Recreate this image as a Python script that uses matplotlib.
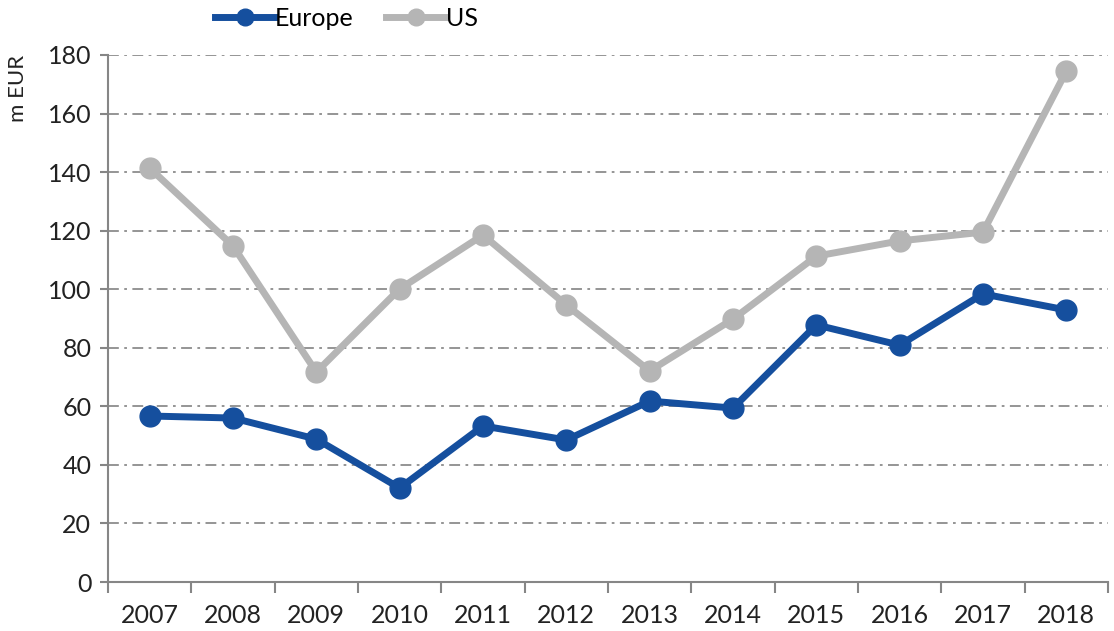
import matplotlib.pyplot as plt
import numpy as np

# data
years = ['2007', '2008', '2009', '2010', '2011', '2012',
         '2013', '2014', '2015', '2016', '2017', '2018']
europe = [56.7, 56.0, 48.8, 32.1, 53.3, 48.5, 61.8, 59.4, 87.8, 80.9, 98.4, 92.9]
us = [141.4, 114.8, 71.7, 100.1, 118.5, 94.6, 72.1, 89.8, 111.3, 116.5, 119.5, 174.5]
y_ticks = [0, 20, 40, 60, 80, 100, 120, 140, 160, 180]

plt.rcParams['font.family'] = ['Lato', 'DejaVu Sans']

fig = plt.figure(figsize=(11.14, 6.31), dpi=100)
ax = fig.add_axes([108 / 1114, 49 / 631, 1000 / 1114, 527 / 631])

x = np.arange(len(years))
ax.plot(x, europe, color='#154f9e', lw=5, marker='o', ms=15, label='Europe', zorder=4)
ax.plot(x, us, color='#b5b5b5', lw=5, marker='o', ms=15, label='US', zorder=3)

ax.set_xlim(-0.5, len(years) - 0.5)
ax.set_ylim(0, 180)
ax.set_yticks(y_ticks)
ax.set_yticklabels([str(v) for v in y_ticks], fontsize=18, color='#222222')
ax.set_xticks(x)
ax.set_xticklabels(years, fontsize=18, color='#222222')
ax.set_xticks(np.arange(-0.5, len(years)), minor=True)
ax.tick_params(axis='x', which='major', length=0, pad=16)
ax.tick_params(axis='x', which='minor', length=8, color='#868686', width=1.5)
ax.tick_params(axis='y', length=6, color='#868686', width=1.5, pad=6)

ax.yaxis.grid(True, color='#8c8c8c', lw=1.3, linestyle=(0, (6, 3, 1.5, 3)))
ax.set_axisbelow(True)
for s in ['top', 'right']:
    ax.spines[s].set_visible(False)
for s in ['left', 'bottom']:
    ax.spines[s].set_color('#868686')
    ax.spines[s].set_linewidth(1.5)

fig.text(18 / 1114, 1 - 88 / 631, 'm EUR', rotation=90, fontsize=16,
         ha='center', va='center', color='#222222')

fig.legend(loc='center left', bbox_to_anchor=(205 / 1114, 1 - 18 / 631), ncol=2,
           frameon=False, fontsize=18, handlelength=2.4, handletextpad=0.0,
           columnspacing=1.3, borderaxespad=0, markerscale=0.8)

fig.savefig('out.png', dpi=100)
